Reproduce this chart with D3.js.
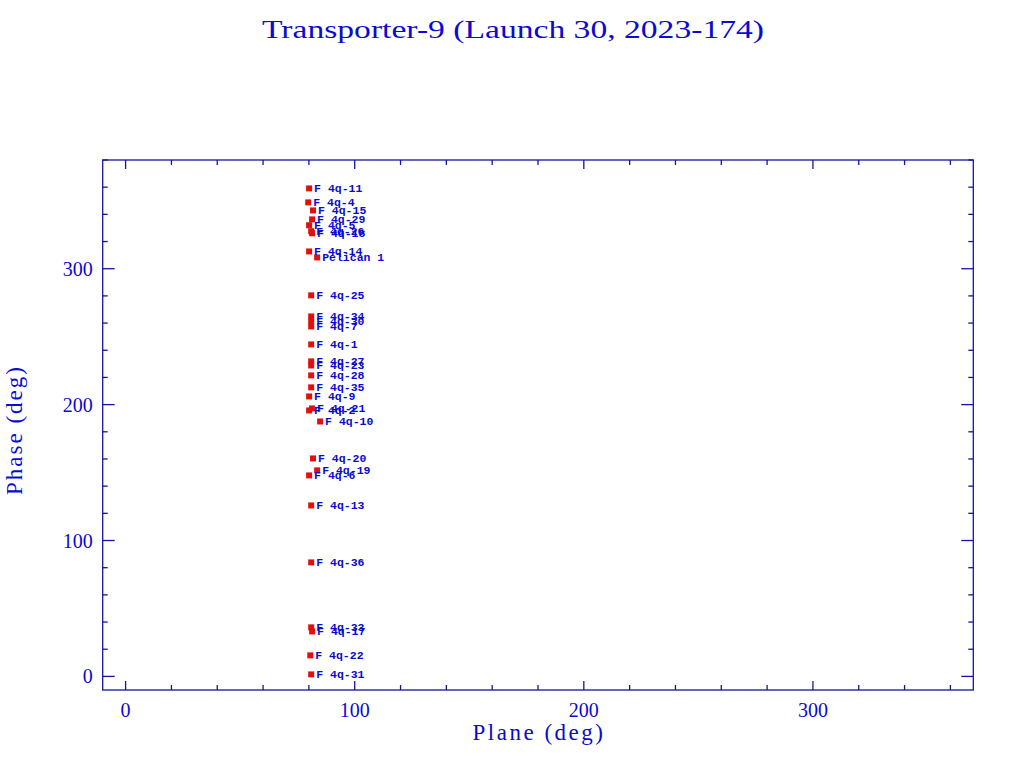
<!DOCTYPE html>
<html><head><meta charset="utf-8">
<script src="https://cdn.jsdelivr.net/npm/d3@7"></script>
<style>body{margin:0;background:#fff}svg{display:block}</style>
</head><body>
<svg id="c" width="1024" height="768"></svg>
<script>
const labels = ["F 4q-11","F 4q-4","F 4q-15","F 4q-29","F 4q-5","F 4q-26","F 4q-18","F 4q-14","Pelican 1","F 4q-25","F 4q-34","F 4q-30","F 4q-7","F 4q-1","F 4q-27","F 4q-23","F 4q-28","F 4q-35","F 4q-9","F 4q-21","F 4q-2","F 4q-10","F 4q-20","F 4q-19","F 4q-6","F 4q-13","F 4q-36","F 4q-33","F 4q-17","F 4q-22","F 4q-31"];
const plane = [80.1,79.7,81.8,81.4,80.1,81.0,81.4,80.1,83.6,81.0,81.0,81.0,81.0,81.0,81.0,81.0,81.0,81.0,80.1,81.4,80.1,84.9,81.8,83.6,80.1,81.0,81.0,81.0,81.4,80.6,81.0];
const phase = [359.1,348.8,342.9,336.3,332.0,327.6,326.1,312.7,308.3,280.4,264.9,261.2,257.5,244.3,231.8,228.8,221.5,212.7,206.0,197.2,195.7,187.6,160.4,151.6,147.9,125.8,83.9,36.1,33.1,15.5,1.5];
const xTicks = [0,100,200,300];
const yTicks = [0,100,200,300];
const title = "Transporter-9 (Launch 30, 2023-174)";

const svg = d3.select("#c");
const axisCol = "#1414a0", txtCol = "#0a0ad0";
const L=102.7,R=973.3,T=160,B=690;
const x = d3.scaleLinear().domain([-10,370]).range([L,R]);
const y = d3.scaleLinear().domain([-10,380]).range([B,T]);

svg.append("rect").attr("x",L).attr("y",T).attr("width",R-L).attr("height",B-T)
  .attr("fill","none").attr("stroke",axisCol).attr("stroke-width",1.3);

const g = svg.append("g").attr("stroke",axisCol).attr("stroke-width",1.3);
d3.range(0,371,20).forEach(v=>{
  const len = v%100===0?9:5;
  g.append("line").attr("x1",x(v)).attr("x2",x(v)).attr("y1",B).attr("y2",B-len);
  g.append("line").attr("x1",x(v)).attr("x2",x(v)).attr("y1",T).attr("y2",T+len);
});
d3.range(0,381,20).forEach(v=>{
  const len = v%100===0?12:5;
  g.append("line").attr("y1",y(v)).attr("y2",y(v)).attr("x1",L).attr("x2",L+len);
  g.append("line").attr("y1",y(v)).attr("y2",y(v)).attr("x1",R).attr("x2",R-len);
});

const ff = "'Liberation Serif','DejaVu Serif',serif";
svg.selectAll(".xt").data(xTicks).enter().append("text")
  .attr("x",d=>x(d)).attr("y",B+27).attr("text-anchor","middle")
  .attr("font-family",ff).attr("font-size",20).attr("fill",txtCol).text(d=>d);
svg.selectAll(".yt").data(yTicks).enter().append("text")
  .attr("x",L-10).attr("y",d=>y(d)+7).attr("text-anchor","end")
  .attr("font-family",ff).attr("font-size",20).attr("fill",txtCol).text(d=>d);

svg.append("text").attr("x",(L+R)/2+1).attr("y",740).attr("text-anchor","middle")
  .attr("font-family",ff).attr("font-size",23).attr("fill",txtCol).attr("letter-spacing",2.5).text("Plane (deg)");
svg.append("text").attr("transform",`translate(22,${(T+B)/2+5}) rotate(-90)`).attr("text-anchor","middle")
  .attr("font-family",ff).attr("font-size",23).attr("fill",txtCol).attr("letter-spacing",2).text("Phase (deg)");
svg.append("text").attr("x",262).attr("y",38).attr("textLength",502).attr("lengthAdjust","spacingAndGlyphs")
  .attr("font-family",ff).attr("font-size",25).attr("fill",txtCol).text(title);

const pts = plane.map((p,i)=>({p, ph:phase[i], l:labels[i]}));
svg.selectAll(".m").data(pts).enter().append("rect")
  .attr("x",d=>x(d.p)-3).attr("y",d=>y(d.ph)-3).attr("width",6).attr("height",6)
  .attr("fill","#e01010");
svg.selectAll(".lb").data(pts).enter().append("text")
  .attr("x",d=>x(d.p)+5).attr("y",d=>y(d.ph)+4)
  .attr("font-family","'Liberation Mono','DejaVu Sans Mono',monospace").attr("font-size",11.5).attr("font-weight","bold").attr("fill",txtCol)
  .text(d=>d.l);
</script>
</body></html>
